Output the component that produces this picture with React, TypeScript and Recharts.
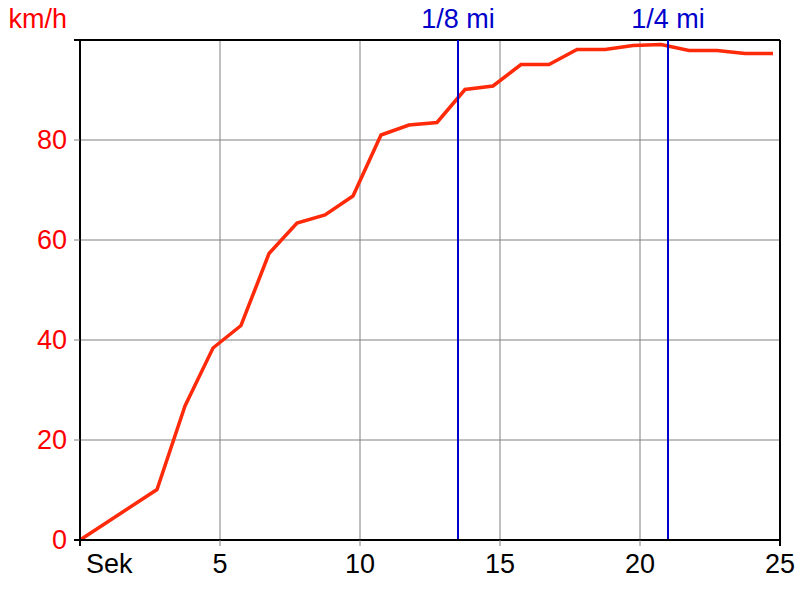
import React from 'react';
import { LineChart, Line, XAxis, YAxis, CartesianGrid, ReferenceLine } from 'recharts';

const seconds = [0, 2.75, 3.75, 4.75, 5.75, 6.75, 7.75, 8.75, 9.75, 10.75, 11.75, 12.75, 13.75, 14.75, 15.75, 16.75, 17.75, 18.75, 19.75, 20.75, 21.75, 22.75, 23.75, 24.75];
const speeds = [0, 10.1, 26.8, 38.4, 42.9, 57.3, 63.4, 65, 68.8, 81, 83, 83.5, 90.1, 90.8, 95.1, 95.1, 98.1, 98.1, 98.9, 99.1, 97.9, 97.9, 97.3, 97.3];
const xTicks = [0, 5, 10, 15, 20, 25];
const yTicks = [0, 20, 40, 60, 80, 100];
const markers = [
  { at: 13.5, label: '1/8 mi' },
  { at: 21, label: '1/4 mi' },
];

const data = seconds.map((s, i) => ({ t: s, v: speeds[i] }));

const FONT = '"Liberation Sans", Arial, sans-serif';
const FS = 27;

const XTick = (props: any) => {
  const { x, y, payload } = props;
  const v = payload.value;
  const black = v === 0 || v === 25;
  return (
    <g>
      <line x1={x} x2={x} y1={y - 8} y2={y - 2} stroke={black ? '#000' : '#808080'} strokeWidth={black ? 2 : 1} />
      {v === 0 ? (
        <text x={x + 6} y={y + 25} textAnchor="start" fill="#000" fontSize={FS} fontFamily={FONT}>Sek</text>
      ) : (
        <text x={x} y={y + 25} textAnchor="middle" fill="#000" fontSize={FS} fontFamily={FONT}>{v}</text>
      )}
    </g>
  );
};

const YTick = (props: any) => {
  const { x, y, payload } = props;
  const v = payload.value;
  const black = v === 0 || v === 100;
  return (
    <g>
      <line x1={x + 2} x2={x + 8} y1={y} y2={y} stroke={black ? '#000' : '#808080'} strokeWidth={black ? 2 : 1} />
      {v === 100 ? (
        <text x={x - 5} y={y - 12} textAnchor="end" fill="#ff0000" fontSize={FS} fontFamily={FONT}>km/h</text>
      ) : (
        <text x={x - 5} y={y + 9} textAnchor="end" fill="#ff0000" fontSize={FS} fontFamily={FONT}>{v}</text>
      )}
    </g>
  );
};

const markerLabel = (text: string) => (props: any) => {
  const vb = props.viewBox || {};
  return (
    <text x={vb.x} y={(vb.y ?? 40) - 12} textAnchor="middle" fill="#0000cc" fontSize={FS} fontFamily={FONT}>{text}</text>
  );
};

export default function App() {
  return (
    <div style={{ position: 'absolute', left: 0, top: 0, width: 800, height: 600, background: '#fff' }}>
      <LineChart width={800} height={600} data={data} margin={{ top: 40, right: 20, bottom: 0, left: 0 }}>
        <CartesianGrid stroke="#808080" strokeWidth={1} />
        <XAxis
          dataKey="t"
          type="number"
          domain={[0, 25]}
          ticks={xTicks}
          height={60}
          axisLine={{ stroke: '#000', strokeWidth: 2 }}
          tickLine={false}
          tickSize={6}
          tickMargin={2}
          tick={<XTick />}
          interval={0}
        />
        <YAxis
          type="number"
          domain={[0, 100]}
          ticks={yTicks}
          width={80}
          axisLine={{ stroke: '#000', strokeWidth: 2 }}
          tickLine={false}
          tickSize={6}
          tickMargin={2}
          tick={<YTick />}
          interval={0}
        />
        <ReferenceLine y={100} stroke="#000" strokeWidth={2} />
        <ReferenceLine x={25} stroke="#000" strokeWidth={2} />
        <Line type="linear" dataKey="v" stroke="#ff2a0a" strokeWidth={3.5} dot={false} isAnimationActive={false} />
        {markers.map((m) => (
          <ReferenceLine key={m.label} x={m.at} stroke="#0000cc" strokeWidth={2} label={markerLabel(m.label)} />
        ))}
      </LineChart>
    </div>
  );
}
